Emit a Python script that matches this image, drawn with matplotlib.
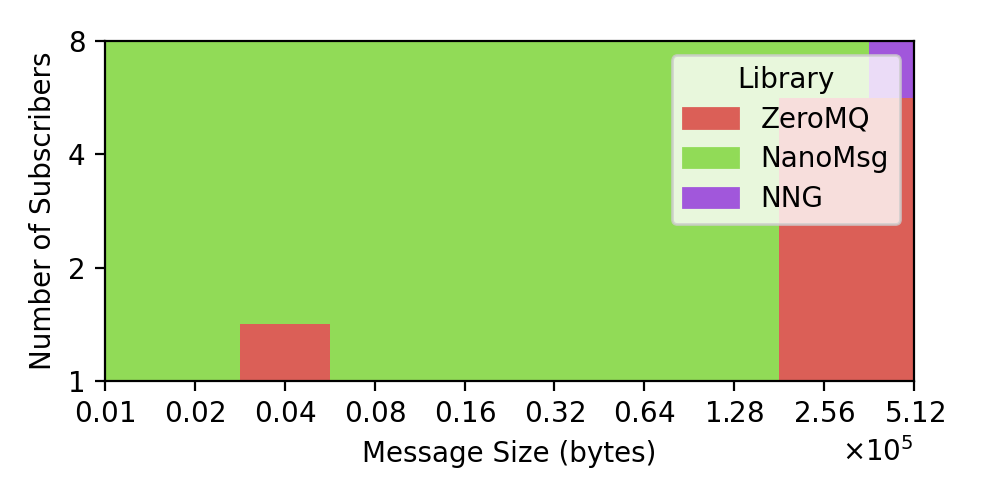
import colorsys
import numpy as np
import matplotlib
matplotlib.use("Agg")
import matplotlib.pyplot as plt
from matplotlib.colors import ListedColormap
from matplotlib.patches import Patch
from matplotlib.ticker import ScalarFormatter, FixedLocator, NullLocator

# Data
message_sizes = [1000, 2000, 4000, 8000, 16000, 32000, 64000, 128000, 256000, 512000]
subscribers = [1, 2, 4, 8]
libraries = ["ZeroMQ", "NanoMsg", "NNG"]
best_sub1 = ["NanoMsg", "NanoMsg", "ZeroMQ", "NanoMsg", "NanoMsg", "NanoMsg", "NanoMsg", "NanoMsg", "ZeroMQ", "ZeroMQ"]
best_sub2 = ["NanoMsg", "NanoMsg", "NanoMsg", "NanoMsg", "NanoMsg", "NanoMsg", "NanoMsg", "NanoMsg", "ZeroMQ", "ZeroMQ"]
best_sub4 = ["NanoMsg", "NanoMsg", "NanoMsg", "NanoMsg", "NanoMsg", "NanoMsg", "NanoMsg", "NanoMsg", "ZeroMQ", "ZeroMQ"]
best_sub8 = ["NanoMsg", "NanoMsg", "NanoMsg", "NanoMsg", "NanoMsg", "NanoMsg", "NanoMsg", "NanoMsg", "NanoMsg", "NNG"]

hues = [0.01, 0.26, 0.76]
colors = [colorsys.hls_to_rgb(h, 0.6, 0.65) for h in hues]

grid = np.array([[libraries.index(v) for v in row]
                 for row in [best_sub1, best_sub2, best_sub4, best_sub8]])

def edges(c):
    lc = np.log2(np.asarray(c, dtype=float))
    mids = (lc[:-1] + lc[1:]) / 2
    e = np.concatenate([[lc[0] - (mids[0] - lc[0])], mids, [lc[-1] + (lc[-1] - mids[-1])]])
    return 2 ** e

fig = plt.figure(figsize=(4.98, 2.49), dpi=200)
ax = fig.add_axes([0.1054, 0.235, 0.8123, 0.6825])

cmap = ListedColormap(colors)
ax.pcolormesh(edges(message_sizes), edges(subscribers), grid, cmap=cmap,
              vmin=-0.5, vmax=len(libraries) - 0.5, shading="flat")

ax.set_xscale("log", base=2)
ax.set_yscale("log", base=2)
ax.set_xlim(message_sizes[0], message_sizes[-1])
ax.set_ylim(subscribers[0], subscribers[-1])

ax.xaxis.set_major_locator(FixedLocator(message_sizes))
fmt = ScalarFormatter(useMathText=True)
fmt.set_powerlimits((0, 0))
ax.xaxis.set_major_formatter(fmt)
ax.xaxis.set_minor_locator(NullLocator())

ax.yaxis.set_major_locator(FixedLocator(subscribers))
ax.set_yticklabels([str(s) for s in subscribers])
ax.yaxis.set_minor_locator(NullLocator())

ax.set_xlabel("Message Size (bytes)")
ax.set_ylabel("Number of Subscribers")

handles = [Patch(facecolor=c, edgecolor=c, linewidth=1.0, label=l)
           for c, l in zip(colors, libraries)]
ax.legend(handles=handles, title="Library", loc="upper right", labelspacing=0.42)

fig.savefig("out.png", dpi=200)
